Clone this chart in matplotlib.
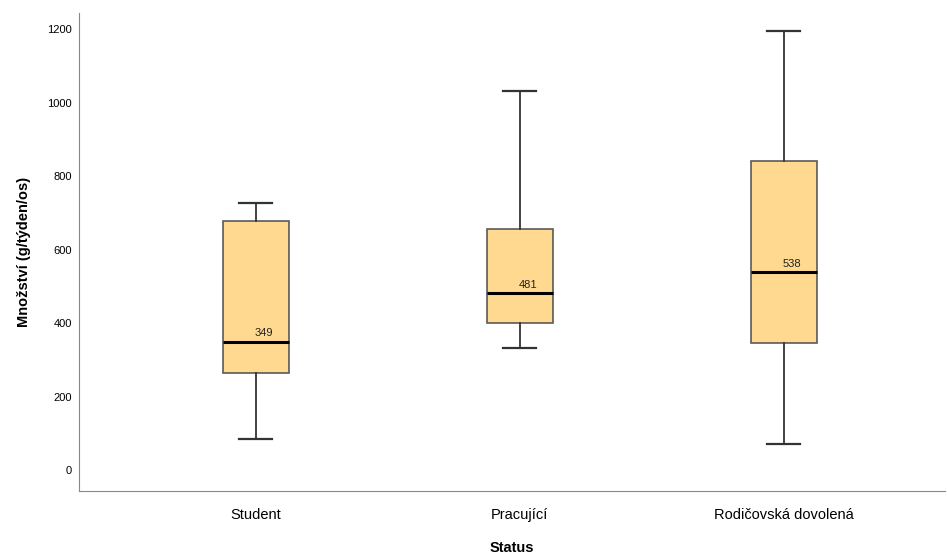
import matplotlib
matplotlib.use("Agg")
import matplotlib.pyplot as plt

plt.rcParams['font.family'] = ['Liberation Sans', 'DejaVu Sans']

# Data
categories = ["Student", "Pracující", "Rodičovská dovolená"]
whisker_low = [84, 333, 70]
q1 = [264, 399, 345]
medians = [349, 481, 538]
q3 = [677, 657, 842]
whisker_high = [726, 1033, 1195]
yticks = [0, 200, 400, 600, 800, 1000, 1200]

stats = []
for i, name in enumerate(categories):
    stats.append({
        "label": name,
        "whislo": whisker_low[i],
        "q1": q1[i],
        "med": medians[i],
        "q3": q3[i],
        "whishi": whisker_high[i],
        "fliers": [],
    })

fig = plt.figure(figsize=(9.47, 5.56), dpi=100)
ax = fig.add_axes([79 / 947, 1 - 491 / 556, 866 / 947, 478 / 556])

positions = list(range(len(categories)))
ax.bxp(stats, positions=positions, widths=0.25, patch_artist=True, showfliers=False,
       boxprops=dict(facecolor="#FED98F", edgecolor="#5a5a5a", linewidth=1.2),
       medianprops=dict(color="black", linewidth=2.2),
       whiskerprops=dict(color="#333333", linewidth=1.3),
       capprops=dict(color="#333333", linewidth=1.6))

for x, m in zip(positions, medians):
    ax.text(x + 0.03, m + 10, str(m), ha="center", va="bottom", fontsize=8, color="#222222")

ax.set_xlim(-0.67, 2.61)
ax.set_ylim(-57, 1244)
ax.set_yticks(yticks)
ax.set_xticks(positions)
ax.set_xticklabels(categories, fontsize=10.5)
ax.tick_params(axis="y", labelsize=8, length=0, pad=5)
ax.tick_params(axis="x", length=0, pad=12)
for side in ["top", "right"]:
    ax.spines[side].set_visible(False)
for side in ["left", "bottom"]:
    ax.spines[side].set_color("#888888")

ax.set_ylabel("Množství (g/týden/os)", fontsize=10.5, fontweight="bold", labelpad=12)
ax.set_xlabel("Status", fontsize=10.5, fontweight="bold", labelpad=14)

fig.savefig("out.png", dpi=100)
